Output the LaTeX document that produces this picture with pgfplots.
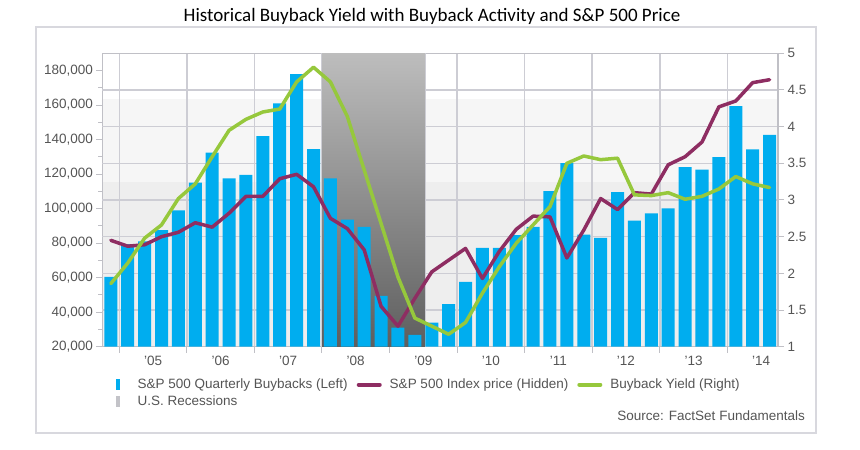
\documentclass[border=0pt]{standalone}
\usepackage{pgfplots}
\pgfplotsset{compat=1.18}
\usepackage{pgfplotstable}
\usepackage{fontspec}
\setmainfont{Liberation Sans}
\newfontfamily\titlefont{Carlito}
\definecolor{barblue}{HTML}{00ADEF}
\definecolor{sppurple}{HTML}{8E2D62}
\definecolor{yldgreen}{HTML}{96C83C}
\definecolor{gridc}{HTML}{CDCDD4}
\definecolor{axc}{HTML}{C0C0C6}
\definecolor{txt}{HTML}{555555}
\definecolor{recgray}{HTML}{C3C3C8}
\definecolor{rectop}{HTML}{BDBDBD}
\definecolor{recbot}{HTML}{5E5E5E}
\definecolor{bandA}{HTML}{F6F6F6}
\definecolor{bandB}{HTML}{EEEEEE}
\definecolor{panel}{HTML}{D8D8DE}

\pgfplotstableread{
x buyback sp yield
0 60500 2.45 1.86
1 79500 2.37 2.14
2 81000 2.39 2.48
3 87500 2.50 2.66
4 99000 2.56 3.02
5 115000 2.69 3.22
6 132500 2.63 3.59
7 117500 2.82 3.95
8 119500 3.05 4.10
9 142000 3.05 4.20
10 161000 3.29 4.24
11 178000 3.35 4.61
12 134500 3.18 4.81
13 117500 2.75 4.61
14 93700 2.61 4.14
15 89400 2.32 3.41
16 49500 1.55 2.68
17 31000 1.28 1.95
18 26800 1.66 1.39
19 33900 2.02 1.28
20 44700 2.18 1.17
21 57600 2.34 1.33
22 77300 1.93 1.73
23 77300 2.30 2.09
24 84600 2.60 2.41
25 89400 2.78 2.66
26 110200 2.77 2.91
27 126400 2.21 3.50
28 85000 2.59 3.60
29 83000 3.02 3.55
30 109500 2.87 3.57
31 93100 3.10 3.07
32 97300 3.08 3.06
33 100200 3.48 3.10
34 124100 3.59 3.01
35 122600 3.79 3.05
36 129900 4.27 3.15
37 159400 4.35 3.32
38 134300 4.60 3.22
39 142800 4.64 3.17
}\datatable

\begin{document}
\begin{tikzpicture}[x=1pt,y=1pt]
\useasboundingbox (0,0) rectangle (860,450);
\fill[white] (0,0) rectangle (860,450);
\draw[panel, line width=1.2pt] (36,17) rectangle (816,423);
\node[font=\titlefont\fontsize{19}{22}\selectfont, text=black] at (432,434) {Historical Buyback Yield with Buyback Activity and S\&P 500 Price};
\node[font=\fontsize{13.5}{16}\selectfont, text=txt, anchor=base east, inner sep=0pt] at (805,29.5) {Source: FactSet Fundamentals};
% background bands
\fill[bandA] (102.4,268) rectangle (778,351);
\fill[bandB] (102.4,103.3) rectangle (778,268);

\begin{axis}[
  at={(102.4pt,103.3pt)}, anchor=south west, scale only axis,
  width=675.6pt, height=293.4pt,
  xmin=-0.5, xmax=39.5, ymin=20000, ymax=190000,
  axis line style={axc, line width=1.5pt},
  tick style={axc, line width=1pt}, tick align=outside,
  major tick length=6pt, minor tick length=4pt,
  ytick={20000,40000,...,180000}, minor y tick num=1, ytick pos=left,
  scaled y ticks=false,
  yticklabel style={/pgf/number format/fixed, /pgf/number format/1000 sep={,}},
  xtick={0.5,4.5,...,36.5}, xticklabels={}, xtick pos=bottom, xmajorgrids,
  extra x ticks={2.5,6.5,...,38.5},
  extra x tick labels={'05,'06,'07,'08,'09,'10,'11,'12,'13,'14},
  extra x tick style={major tick length=0pt, xmajorgrids=false},
  extra y ticks={41250,62500,83750,105000,126250,147500,168750},
  extra y tick labels={},
  extra y tick style={major tick length=0pt, ymajorgrids=true},
  major grid style={gridc, line width=1.5pt},
  ticklabel style={font=\fontsize{13.5}{16}\selectfont, text=txt},
  xticklabel style={yshift=-6pt},
  /pgf/number format/assume math mode=true,
]
\fill[top color=rectop, bottom color=recbot] (axis cs:12.5,20000) rectangle (axis cs:18.6,190000);
\draw[gridc, line width=1pt] (axis cs:12.5,20000) -- (axis cs:12.5,190000);
\draw[gridc, line width=1pt] (axis cs:18.6,20000) -- (axis cs:18.6,190000);
\addplot[ybar, bar width=0.77, fill=barblue, draw=none] table[x=x, y=buyback] {\datatable};
\end{axis}

\begin{axis}[
  at={(102.4pt,103.3pt)}, anchor=south west, scale only axis,
  width=675.6pt, height=293.4pt,
  xmin=-0.5, xmax=39.5, ymin=1, ymax=5,
  hide x axis, axis y line*=right,
  axis line style={axc, line width=1.5pt},
  tick style={axc, line width=1pt}, tick align=outside,
  major tick length=6pt,
  ytick={1,1.5,...,5}, ytick pos=right,
  ticklabel style={font=\fontsize{13.5}{16}\selectfont, text=txt},
  /pgf/number format/assume math mode=true,
  legend columns=3,
  legend style={at={(axis description cs:0.006,-0.1)}, anchor=north west,
    draw=none, fill=none, inner sep=0pt, font=\fontsize{13.5}{16}\selectfont, text=txt,
    nodes={inner sep=0pt, text height=10pt, text depth=3pt, inner ysep=2pt},
    /tikz/every odd column/.append style={column sep=8pt},
    /tikz/every even column/.append style={column sep=9pt}},
  legend cell align=left,
]
\addlegendimage{legend image code/.code={\path[draw=none, fill=none] (0pt,-5.5pt) rectangle (23pt,5.5pt); \fill[barblue, draw=none] (9pt,-5.5pt) rectangle (13.5pt,5.5pt);}}
\addlegendentry{S\&P 500 Quarterly Buybacks (Left)}
\addplot[sppurple, line width=3.5pt, line join=round, line cap=round, legend image code/.code={\draw[sppurple, line width=4pt, line cap=round] (1pt,0pt) -- (22pt,0pt);}] table[x=x, y=sp] {\datatable};
\addlegendentry{S\&P 500 Index price (Hidden)}
\addplot[yldgreen, line width=3.5pt, line join=round, line cap=round, legend image code/.code={\draw[yldgreen, line width=4pt, line cap=round] (1pt,0pt) -- (22pt,0pt);}] table[x=x, y=yield] {\datatable};
\addlegendentry{Buyback Yield (Right)}
\addlegendimage{legend image code/.code={\path[draw=none, fill=none] (0pt,-5.5pt) rectangle (23pt,5.5pt); \fill[recgray, draw=none] (9pt,-5.5pt) rectangle (13.5pt,5.5pt);}}
\addlegendentry{U.S. Recessions}
\end{axis}
\end{tikzpicture}
\end{document}
